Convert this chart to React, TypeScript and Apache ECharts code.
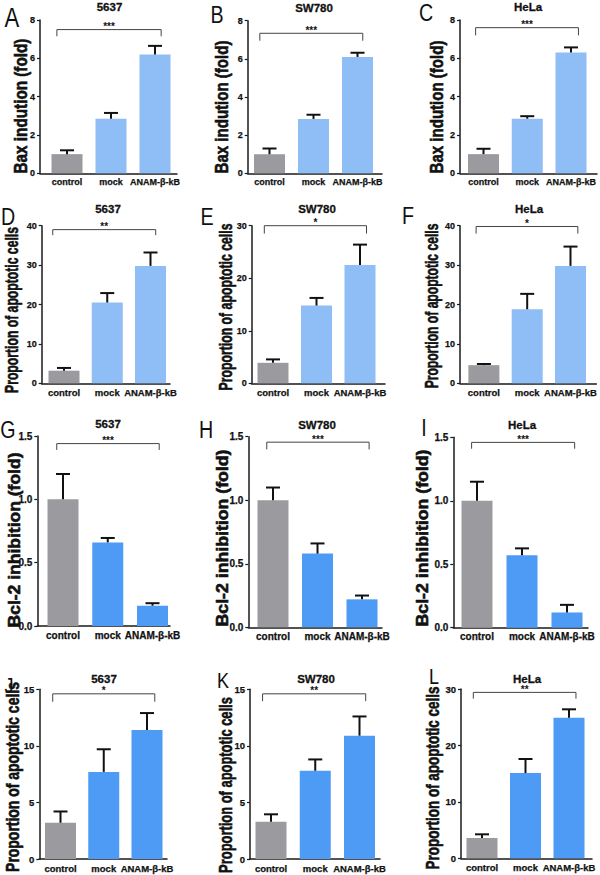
import React, { useEffect, useRef } from "react";
import * as echarts from "echarts";

// ---------- data ----------
const categories = ["control", "mock", "ANAM-β-kB"];
const panelLetters = ["A", "B", "C", "D", "E", "F", "G", "H", "I", "J", "K", "L"];
const cellLines = ["5637", "SW780", "HeLa", "5637", "SW780", "HeLa", "5637", "SW780", "HeLa", "5637", "SW780", "HeLa"];
const yAxisNames = [
  "Bax indution (fold)", "Bax indution (fold)", "Bax indution (fold)",
  "Proportion of apoptotic cells", "Proportion of apoptotic cells", "Proportion of apoptotic cells",
  "Bcl-2 inhibition (fold)", "Bcl-2 inhibition (fold)", "Bcl-2 inhibition (fold)",
  "Proportion of apoptotic cells", "Proportion of apoptotic cells", "Proportion of apoptotic cells",
];

const baxMean5637 = [1.0, 2.85, 6.2];
const baxErr5637 = [0.2, 0.3, 0.45];
const baxMeanSW780 = [1.0, 2.85, 6.1];
const baxErrSW780 = [0.3, 0.22, 0.22];
const baxMeanHeLa = [1.0, 2.85, 6.3];
const baxErrHeLa = [0.28, 0.13, 0.27];

const apoMean5637 = [3.2, 20.5, 29.8];
const apoErr5637 = [0.7, 2.4, 3.4];
const apoMeanSW780 = [3.9, 14.8, 22.5];
const apoErrSW780 = [0.65, 1.45, 3.9];
const apoMeanHeLa = [4.6, 18.8, 29.8];
const apoErrHeLa = [0.3, 3.9, 4.9];

const bclMean5637 = [1.0, 0.66, 0.16];
const bclErr5637 = [0.2, 0.035, 0.02];
const bclMeanSW780 = [1.0, 0.58, 0.22];
const bclErrSW780 = [0.1, 0.08, 0.03];
const bclMeanHeLa = [1.0, 0.57, 0.12];
const bclErrHeLa = [0.15, 0.055, 0.06];

const apo2Mean5637 = [3.2, 7.7, 11.4];
const apo2Err5637 = [1.0, 2.0, 1.5];
const apo2MeanSW780 = [3.3, 7.8, 10.9];
const apo2ErrSW780 = [0.65, 1.0, 1.7];
const apo2MeanHeLa = [3.6, 15.1, 24.9];
const apo2ErrHeLa = [0.65, 2.5, 1.5];

const yMax = [8, 8, 8, 40, 30, 40, 1.5, 1.5, 1.5, 15, 15, 30];
const yInterval = [2, 2, 2, 10, 10, 10, 0.5, 0.5, 0.5, 5, 5, 10];
const significance = ["***", "***", "***", "**", "*", "*", "***", "***", "***", "*", "**", "**"];
const bracketLevel = [7.5, 7.34, 7.6, 39.0, 30.0, 39.8, 1.44, 1.457, 1.46, 14.6, 14.6, 29.4];
const bracketTickEnd = [7.15, 6.95, 7.2, 37.6, 28.5, 38.0, 1.39, 1.4, 1.41, 13.9, 13.95, 28.3];
const bracketFrom = [-0.23, -0.22, -0.18, -0.26, -0.2, -0.18, -0.14, -0.14, -0.12, -0.18, -0.19, -0.2];
const bracketTo = [2.14, 2.12, 2.17, 2.12, 2.15, 2.17, 2.15, 2.16, 2.17, 2.18, 2.14, 2.16];

const panelMeans = [
  baxMean5637, baxMeanSW780, baxMeanHeLa,
  apoMean5637, apoMeanSW780, apoMeanHeLa,
  bclMean5637, bclMeanSW780, bclMeanHeLa,
  apo2Mean5637, apo2MeanSW780, apo2MeanHeLa,
];
const panelErrs = [
  baxErr5637, baxErrSW780, baxErrHeLa,
  apoErr5637, apoErrSW780, apoErrHeLa,
  bclErr5637, bclErrSW780, bclErrHeLa,
  apo2Err5637, apo2ErrSW780, apo2ErrHeLa,
];

// ---------- layout / style ----------
// axisX: y-axis line x, xEnd: end of x-axis line, top/bottom: y of max/0, c0/c2: first/last bar centre
const layout = [
  { axisX: 40, xEnd: 177, top: 20, bottom: 173.3, c0: 67, c2: 155 },
  { axisX: 247.7, xEnd: 382, top: 20.7, bottom: 173.3, c0: 269.5, c2: 357.5 },
  { axisX: 460, xEnd: 597, top: 20, bottom: 173.3, c0: 483.5, c2: 571 },
  { axisX: 41.7, xEnd: 170, top: 225.7, bottom: 383.3, c0: 64, c2: 150.5 },
  { axisX: 251.7, xEnd: 385, top: 225.7, bottom: 383.3, c0: 273, c2: 360 },
  { axisX: 460, xEnd: 597, top: 225.7, bottom: 383.3, c0: 484, c2: 571 },
  { axisX: 37.3, xEnd: 170, top: 436, bottom: 626, c0: 63, c2: 152.5 },
  { axisX: 248.3, xEnd: 382, top: 436.7, bottom: 627.3, c0: 273, c2: 362 },
  { axisX: 453.3, xEnd: 588, top: 437.3, bottom: 627.7, c0: 477, c2: 567 },
  { axisX: 39.3, xEnd: 167, top: 689.3, bottom: 859, c0: 60.5, c2: 147 },
  { axisX: 250, xEnd: 380, top: 689.3, bottom: 859, c0: 271, c2: 359.5 },
  { axisX: 461, xEnd: 592, top: 689, bottom: 858.3, c0: 482, c2: 569 },
];
const letterPos = [
  [12, 18, 27], [217, 15, 24], [426, 13, 24],
  [8, 217, 24], [207, 217, 24], [408, 216, 24],
  [8, 430, 24], [206, 430, 24], [424, 428, 24],
  [9, 685, 22], [223, 680, 22], [434, 676, 22],
];
const titlePos = [
  [109.5, 7], [314, 7.5], [528, 7],
  [108, 209], [317, 209], [529, 209],
  [108, 424], [317, 425], [522, 425],
  [104, 679], [316, 679], [527, 679],
];
// centre x, centre y, target length, font size
const yNamePos = [
  [21.5, 106, 135, 18], [222, 107, 133, 18], [437, 107, 133, 18],
  [12, 310, 166, 18], [226, 307, 167, 18], [432, 306, 165, 18],
  [14.5, 540, 175, 16.5], [223, 538, 177, 16.5], [423, 538, 177, 16.5],
  [12, 777, 190, 18], [226, 785, 176, 18], [433, 778, 183, 18],
];
const tickFont = [9, 9, 10, 9.5];
const catFont = [9, 9.5, 10, 9.5];
const GRAY = "#9b9b9f";
const LIGHT_BLUE = "#8fbdf6";
const BLUE = "#4d9bf5";
const FONT = '"Liberation Sans", Arial, Helvetica, sans-serif';

let measureCtx: CanvasRenderingContext2D | null = null;
function textWidth(t: string, size: number, weight: string) {
  if (!measureCtx) measureCtx = document.createElement("canvas").getContext("2d");
  if (!measureCtx) return t.length * size * 0.55;
  measureCtx.font = `${weight} ${size}px ${FONT}`;
  return measureCtx.measureText(t).width;
}

function buildOption() {
  const grid: any[] = [];
  const xAxis: any[] = [];
  const yAxis: any[] = [];
  const series: any[] = [];
  const graphic: any[] = [];

  layout.forEach((L, i) => {
    const row = Math.floor(i / 3);
    const step = (L.c2 - L.c0) / 2;
    grid.push({ left: L.axisX, top: L.top, width: L.xEnd - L.axisX, height: L.bottom - L.top, containLabel: false });
    xAxis.push({
      type: "value",
      gridIndex: i,
      min: (L.axisX - L.c0) / step,
      max: (L.xEnd - L.c0) / step,
      axisLine: { show: true, onZero: false, lineStyle: { color: "#1a1a1a", width: 1.5 } },
      axisTick: { show: false },
      splitLine: { show: false },
      axisLabel: {
        customValues: [0, 1, 2],
        formatter: (v: number) => categories[Math.round(v)] ?? "",
        color: "#111",
        fontWeight: "bold",
        fontFamily: FONT,
        fontSize: catFont[row],
        margin: 4,
        textBorderColor: "#111",
        textBorderWidth: 0.25,
      },
    });
    yAxis.push({
      type: "value",
      gridIndex: i,
      min: 0,
      max: yMax[i],
      interval: yInterval[i],
      axisLine: { show: true, onZero: false, lineStyle: { color: "#1a1a1a", width: 1.5 } },
      axisTick: { show: true, length: 3, lineStyle: { color: "#1a1a1a", width: 1.2 } },
      splitLine: { show: false },
      axisLabel: {
        color: "#111",
        fontWeight: "bold",
        fontFamily: FONT,
        fontSize: tickFont[row],
        margin: 5,
        textBorderColor: "#111",
        textBorderWidth: 0.25,
        formatter: (v: number) => (yInterval[i] < 1 ? v.toFixed(1) : String(v)),
      },
    });

    const means = panelMeans[i];
    const errs = panelErrs[i];
    const blue = row < 2 ? LIGHT_BLUE : BLUE;
    series.push({
      type: "bar",
      xAxisIndex: i,
      yAxisIndex: i,
      barWidth: 31,
      silent: true,
      data: means.map((m, k) => ({ value: [k, m], itemStyle: { color: k === 0 ? GRAY : blue } })),
    });
    series.push({
      type: "custom",
      xAxisIndex: i,
      yAxisIndex: i,
      silent: true,
      z: 5,
      clip: false,
      encode: { x: 0, y: 1 },
      data: means.map((m, k) => [k, m, errs[k]]),
      renderItem: (_p: any, api: any) => {
        const x = api.value(0);
        const m = api.value(1);
        const e = api.value(2);
        const base = api.coord([x, m]);
        const top = api.coord([x, m + e]);
        const hw = 7;
        return {
          type: "group",
          children: [
            { type: "line", shape: { x1: base[0], y1: base[1], x2: top[0], y2: top[1] }, style: { stroke: "#111", lineWidth: 2 } },
            { type: "line", shape: { x1: top[0] - hw, y1: top[1], x2: top[0] + hw, y2: top[1] }, style: { stroke: "#111", lineWidth: 2 } },
          ],
        };
      },
    });
    series.push({
      type: "custom",
      xAxisIndex: i,
      yAxisIndex: i,
      silent: true,
      z: 5,
      clip: false,
      encode: { x: [0, 1], y: [2, 3] },
      data: [[bracketFrom[i], bracketTo[i], bracketLevel[i], bracketTickEnd[i]]],
      renderItem: (_p: any, api: any) => {
        const x0 = api.value(0);
        const x1 = api.value(1);
        const lv = api.value(2);
        const tk = api.value(3);
        const p0 = api.coord([x0, tk]);
        const p1 = api.coord([x0, lv]);
        const p2 = api.coord([x1, lv]);
        const p3 = api.coord([x1, tk]);
        const mid = api.coord([(x0 + x1) / 2, lv]);
        return {
          type: "group",
          children: [
            { type: "polyline", shape: { points: [p0, p1, p2, p3] }, style: { stroke: "#444", lineWidth: 1, fill: "none" } },
            {
              type: "text",
              x: mid[0],
              y: mid[1] - 3,
              style: {
                text: significance[i],
                fill: "#111",
                font: `bold 10px ${FONT}`,
                align: "center",
                verticalAlign: "middle",
                textAlign: "center",
                textVerticalAlign: "middle",
              },
            },
          ],
        };
      },
    });

    // title
    graphic.push({
      type: "text",
      x: titlePos[i][0],
      y: titlePos[i][1],
      silent: true,
      style: {
        text: cellLines[i],
        fill: "#111",
        stroke: "#111",
        lineWidth: 0.3,
        font: `bold 11.5px ${FONT}`,
        align: "center",
        verticalAlign: "middle",
        textAlign: "center",
        textVerticalAlign: "middle",
      },
    });
    // panel letter
    graphic.push({
      type: "text",
      x: letterPos[i][0],
      y: letterPos[i][1],
      scaleX: 0.82,
      silent: true,
      style: {
        text: panelLetters[i],
        fill: "#111",
        font: `normal ${letterPos[i][2]}px ${FONT}`,
        align: "center",
        verticalAlign: "middle",
        textAlign: "center",
        textVerticalAlign: "middle",
      },
    });
    // y axis name
    const [cx, cy, len, fs] = yNamePos[i];
    const natural = textWidth(yAxisNames[i], fs, "bold");
    graphic.push({
      type: "text",
      x: cx,
      y: cy,
      rotation: Math.PI / 2,
      scaleX: len / natural,
      silent: true,
      style: {
        text: yAxisNames[i],
        fill: "#111",
        stroke: "#111",
        lineWidth: 0.6,
        font: `bold ${fs}px ${FONT}`,
        align: "center",
        verticalAlign: "middle",
        textAlign: "center",
        textVerticalAlign: "middle",
      },
    });
  });

  return {
    animation: false,
    backgroundColor: "#ffffff",
    grid,
    xAxis,
    yAxis,
    series,
    graphic: { elements: graphic },
  };
}

export default function App() {
  const ref = useRef<HTMLDivElement>(null);
  useEffect(() => {
    if (!ref.current) return;
    const chart = echarts.init(ref.current, undefined, { renderer: "svg" });
    chart.setOption(buildOption() as any);
    return () => chart.dispose();
  }, []);
  return (
    <div
      ref={ref}
      style={{ position: "fixed", left: 0, top: 0, width: 600, height: 875, background: "#fff" }}
    />
  );
}
